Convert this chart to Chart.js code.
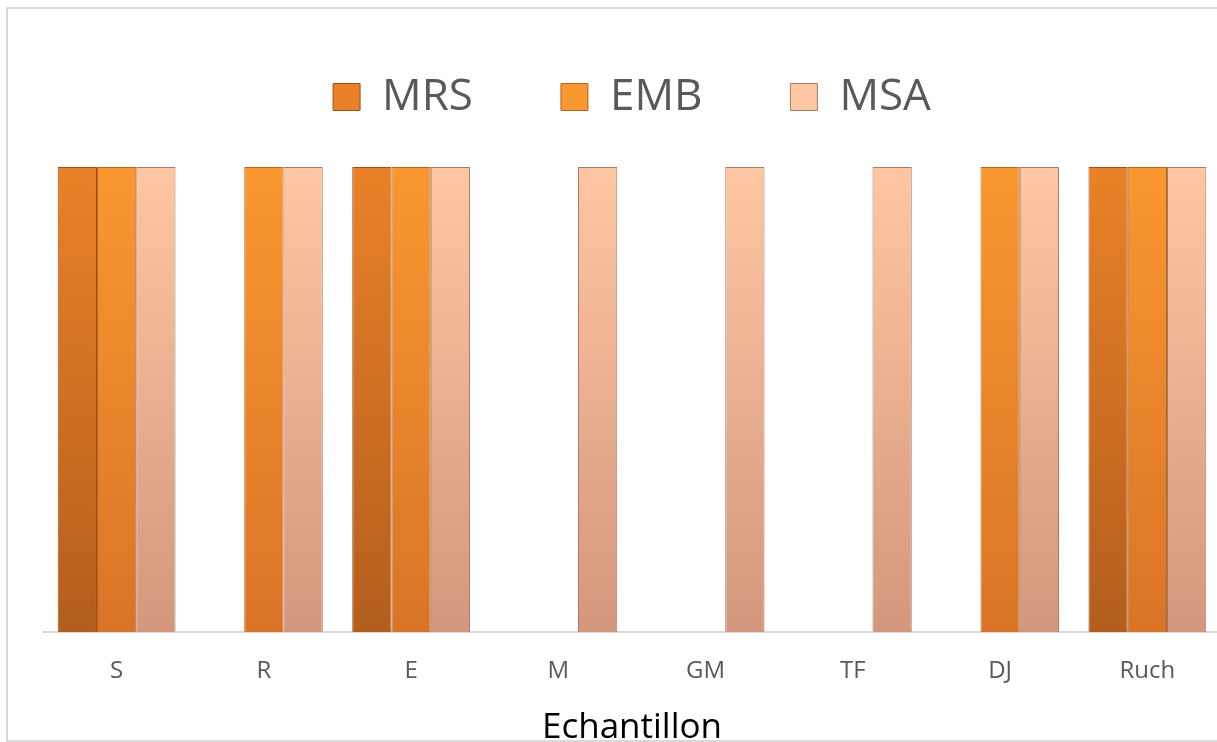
<!DOCTYPE html>
<html>
<head>
<meta charset="utf-8">
<script src="https://cdn.jsdelivr.net/npm/chart.js@4/dist/chart.umd.min.js"></script>
<style>
  html, body { margin: 0; padding: 0; background: #fff; overflow: hidden; width: 1217px; height: 742px; }
  .frame {
    position: absolute; left: 6px; top: 7px;
    width: 1240px; height: 731px;
    border: 2px solid #d9d9d9;
    overflow: hidden; background: #fff;
  }
  canvas { position: absolute; left: 0; top: -30px; }
</style>
</head>
<body>
<div class="frame">
  <canvas id="chart" width="1236" height="767"></canvas>
</div>
<script>
const categories = ["S", "R", "E", "M", "GM", "TF", "DJ", "Ruch"];
const seriesNames = ["MRS", "EMB", "MSA"];
const mrs = [1, 0, 1, 0, 0, 0, 0, 1];
const emb = [1, 1, 1, 0, 0, 0, 1, 1];
const msa = [1, 1, 1, 1, 1, 1, 1, 1];
const axisTitle = "Echantillon";

// vertical gradient like the excel bevel fill
function grad(top, bottom) {
    return (c) => {
        const area = c.chart.chartArea;
        if (!area) return top;
        const g = c.chart.ctx.createLinearGradient(0, area.top, 0, area.bottom);
        g.addColorStop(0, top);
        g.addColorStop(1, bottom);
        return g;
    };
}

// extra room between legend and plot area
const legendGap = {
    id: "legendGap",
    beforeLayout(chart) {
        const lg = chart.legend;
        if (lg && !lg._gapDone) {
            const fit = lg.fit;
            lg.fit = function () {
                fit.call(this);
                this.height += 38;
            };
            lg._gapDone = true;
        }
    }
};

new Chart(document.getElementById("chart"), {
    type: "bar",
    data: {
        labels: categories,
        datasets: [
            {
                label: seriesNames[0],
                data: mrs,
                backgroundColor: grad("#ea8128", "#b35e1d"),
                borderColor: "#9c5017",
                borderWidth: 1
            },
            {
                label: seriesNames[1],
                data: emb,
                backgroundColor: grad("#f99830", "#d97427"),
                borderColor: "#b8631f",
                borderWidth: 1
            },
            {
                label: seriesNames[2],
                data: msa,
                backgroundColor: grad("#ffc6a3", "#d3977d"),
                borderColor: "#a97a65",
                borderWidth: 1
            }
        ]
    },
    options: {
        responsive: false,
        animation: false,
        layout: { padding: { left: 35, right: 23, top: 8, bottom: 0 } },
        datasets: {
            bar: { categoryPercentage: 0.8, barPercentage: 1.0 }
        },
        plugins: {
            legend: {
                position: "top",
                labels: {
                    color: "#595959",
                    font: { family: "Open Sans", size: 44 },
                    boxWidth: 27,
                    boxHeight: 27,
                    padding: 88
                }
            },
            tooltip: { enabled: false }
        },
        scales: {
            x: {
                grid: { display: false, drawTicks: false },
                border: { display: true, color: "#d9d9d9", width: 2 },
                ticks: {
                    color: "#595959",
                    font: { family: "Open Sans", size: 24 },
                    padding: 25
                },
                title: {
                    display: true,
                    text: axisTitle,
                    color: "#000",
                    font: { family: "Open Sans", size: 35, lineHeight: 1 },
                    padding: { top: 0, bottom: 0 }
                }
            },
            y: {
                display: false,
                min: 0,
                max: 1
            }
        }
    },
    plugins: [legendGap]
});
</script>
</body>
</html>
